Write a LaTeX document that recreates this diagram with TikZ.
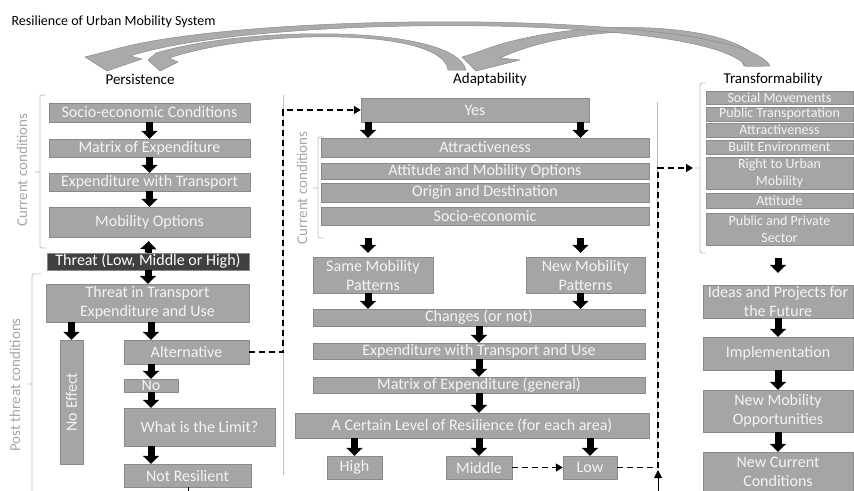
\documentclass[tikz,border=0pt]{standalone}
\usepackage{fontspec}
\setmainfont{Carlito}
\usepackage{tikz}
\usetikzlibrary{arrows.meta,calc}
\usepackage{xcolor}
\definecolor{BoxGray}{HTML}{A5A5A5}
\definecolor{BoxEdge}{HTML}{8A8A8A}
\definecolor{BoxText}{HTML}{F4F4F4}
\definecolor{ThreatDark}{HTML}{404040}
\definecolor{BraceGray}{HTML}{BFBFBF}
\definecolor{LabelGray}{HTML}{A6A6A6}
\definecolor{ArcGray}{HTML}{ABABAB}
\definecolor{ArcEdge}{HTML}{8C8C8C}

\tikzset{
  box/.style={draw=BoxEdge,fill=BoxGray,text=BoxText,inner sep=0pt,align=center,font=\fontsize{16}{19}\selectfont},
  smallbox/.style={box,font=\fontsize{14}{17}\selectfont},
  blockarrow/.style={line width=7pt,-{Triangle[width=16pt,length=8pt]}},
  dasharrow/.style={line width=1.6pt,dash pattern=on 6pt off 4pt,-{Triangle[width=8pt,length=7pt]}},
  brace/.style={draw=BraceGray,line width=0.8pt,rounded corners=2pt},
  sidelabel/.style={text=LabelGray,rotate=90,font=\fontsize{15}{18}\selectfont},
  ribbon/.style={fill=ArcGray,draw=ArcEdge,line width=0.5pt,line join=round}
}

\begin{document}
\begin{tikzpicture}[x=1pt,y=-1pt]
    \useasboundingbox (0,0) rectangle (854,490);
    \node[anchor=west,font=\fontsize{14}{17}\selectfont] (title) at (8,22) {Resilience of Urban Mobility System};
    \foreach \cx/\name/\txt in {140/pers/Persistence,490/adap/Adaptability,773/trans/Transformability} {
     \node[font=\fontsize{15}{18}\selectfont] (\name) at (\cx,79) {\txt};
    }
    \filldraw[ribbon] (462,57) -- (476,71) -- (520,60) -- (500,58) .. controls (580,21) and (728,23) .. (744,66)
      -- (762,66) .. controls (745,20) and (570,15) .. (478,52) -- cycle;
    \filldraw[ribbon] (85,57) -- (107,71) -- (142,59) -- (130,56) .. controls (260,14) and (705,14) .. (746,66)
      -- (770,66) .. controls (740,10) and (250,10) .. (112,50) -- cycle;
    \filldraw[ribbon] (148,60) -- (160,71) -- (178,62) -- (169,58) .. controls (260,28) and (443,28) .. (448,70)
      -- (466,70) .. controls (455,25) and (250,25) .. (156,53) -- cycle;
    \draw[draw=BraceGray,line width=0.6pt] (283,95) -- (283,475);
    \draw[draw=BraceGray,line width=0.6pt] (657,102) -- (657,467);
    \foreach \name/\cx/\cy/\w/\h/\txt in {
     soc/149.5/112.5/201/19/{Socio-economic Conditions},
     mtx/149.5/148/201/18/{Matrix of Expenditure},
     ewt/149.5/182/201/18/{Expenditure with Transport},
     mob/149.5/222/201/30/{Mobility Options},
     tte/147.5/303/203/38/{Threat in Transport\\Expenditure and Use},
     alt/186.5/352/125/24/{Alternative},
     no/151/385.5/54/13/{No},
     lim/199.5/427/151/38/{What is the Limit?},
     nrs/187.5/475.5/127/23/{Not Resilient},
     yes/475/110/228/24/{Yes},
     att/485/147.5/328/19/{Attractiveness},
     amo/485/171/328/16/{Attitude and Mobility Options},
     ood/485/192.5/328/19/{Origin and Destination},
     soe/485/216/328/18/{Socio-economic},
     smp/373/275/120/36/{Same Mobility\\Patterns},
     nmp/585.5/275/119/36/{New Mobility\\Patterns},
     chg/479/317.5/332/17/{Changes (or not)},
     ewu/479/351/332/16/{Expenditure with Transport and Use},
     meg/479/385/332/16/{Matrix of Expenditure (general)},
     lvl/472/425.5/354/25/{A Certain Level of Resilience (for each area)},
     hig/354.5/467.5/55/23/{High},
     mid/479/467.5/66/23/{Middle},
     low/590/467.5/54/23/{Low},
     ipf/778/301.5/150/33/{Ideas and Projects for\\the Future},
     imp/778/353.5/150/33/{Implementation},
     nmo/778/411/150/42/{New Mobility\\Opportunities},
     ncc/778/472/150/40/{New Current\\Conditions}} {
     \node[box,minimum width=\w pt,minimum height=\h pt] (\name) at (\cx,\cy) {\txt};
    }
    \node[box,fill=ThreatDark,draw=BoxEdge,text=white,minimum width=202pt,minimum height=17pt] (thr) at (148,261.5) {Threat (Low, Middle or High)};
    \node[box,rotate=90,minimum width=124pt,minimum height=23pt] (noe) at (71.5,402) {No Effect};
    \foreach \name/\cy/\h/\txt in {
     smv/97.5/13/{Social Movements},
     ptr/114/14/{Public Transportation},
     atr/130/14/{Attractiveness},
     ben/147/14/{Built Environment},
     rum/173/32/{Right to Urban\\Mobility},
     atd/200.5/15/{Attitude},
     pps/229/32/{Public and Private\\Sector}} {
     \node[smallbox,minimum width=147pt,minimum height=\h pt] (\name) at (779.5,\cy) {\txt};
    }
    \draw[brace] (46,95) -- (40,95) -- (40,248) -- (46,248) (40,172) -- (35,172);
    \draw[brace] (41,274) -- (32,274) -- (32,495) (32,384) -- (27,384);
    \draw[brace] (324,137) -- (318,137) -- (318,238) -- (324,238) (318,188) -- (313,188);
    \draw[brace] (706,83) -- (700,83) -- (700,253) -- (706,253) (700,168) -- (695,168);
    \node[sidelabel] (cc1) at (22,170) {Current conditions};
    \node[sidelabel] (ptc) at (15,385) {Post threat conditions};
    \node[sidelabel] (cc2) at (302,188) {Current conditions};
    \draw[blockarrow] (soc) -- (mtx);
    \draw[blockarrow] (mtx) -- (ewt);
    \draw[blockarrow] (ewt) -- (mob);
    \draw[blockarrow,shorten >=4pt] (thr) -- (mob);
    \draw[blockarrow] (thr) -- (thr |- tte.north);
    \draw[blockarrow] (tte.south -| noe) -- (noe.east);
    \draw[blockarrow] (tte.south -| no) -- (alt.north -| no);
    \draw[blockarrow] (alt.south -| no) -- (no);
    \draw[blockarrow] (no) -- (lim.north -| no);
    \draw[blockarrow] (lim.south -| no) -- (nrs.north -| no);
    \draw (nrs.south -| 188,0) -- ++(0,5);
    \foreach \col in {smp,nmp} {
     \draw[blockarrow] ([xshift=-5pt]yes.south -| \col) -- ([xshift=-5pt]att.north -| \col);
     \draw[blockarrow,shorten <=13pt,shorten >=4pt] ([xshift=-5pt]soe.south -| \col) -- ([xshift=-5pt]\col.north);
     \draw[blockarrow] ([xshift=-5pt]\col.south) -- ([xshift=-5pt]chg.north -| \col);
    }
    \draw[blockarrow] (chg) -- (ewu);
    \draw[blockarrow] (ewu) -- (meg);
    \draw[blockarrow] (meg) -- (lvl.north -| meg);
    \foreach \lv in {hig,mid,low} {
     \draw[blockarrow] (lvl.south -| \lv) -- (\lv);
    }
    \draw[blockarrow,shorten <=13pt,shorten >=12pt] (pps.south -| ipf) -- (ipf);
    \draw[blockarrow] (ipf) -- (imp);
    \draw[blockarrow] (imp) -- (nmo);
    \draw[blockarrow] (nmo) -- (ncc);
    \coordinate (sepA) at (283,110);
    \coordinate (sepB) at (658,168);
    \coordinate (trb) at (693,168);
    \coordinate (upb) at (658,495);
    \coordinate (upt) at (658,470);
    \draw[dasharrow] (alt.east) -| (sepA) -- (yes.west);
    \draw[dasharrow] (mid) -- (low);
    \draw[dasharrow] (low.east) -| (sepB) -- (trb);
    \draw[line width=1pt,-{Triangle[width=8pt,length=8pt]}] (upb) -- (upt);
   \end{tikzpicture}
\end{document}
